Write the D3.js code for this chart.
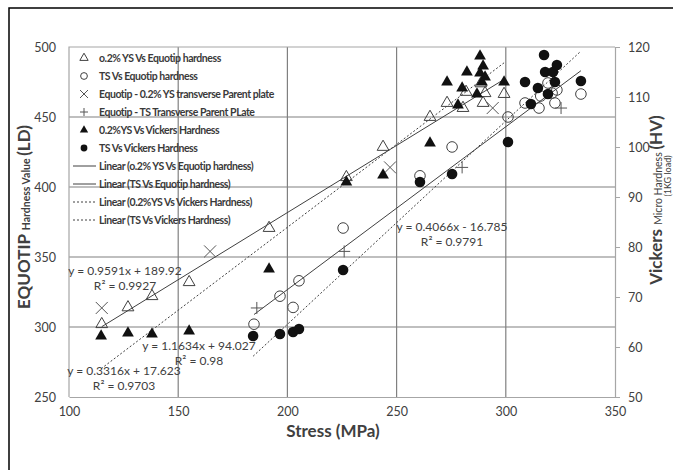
<!DOCTYPE html>
<html>
<head>
<meta charset="utf-8">
<script src="https://cdn.jsdelivr.net/npm/d3@7"></script>
<style>
  body { margin: 0; background: #fff; }
  text { font-family: Lato, "Open Sans", sans-serif; fill: #404040; }
  .legend text { font-family: Lato, sans-serif; font-weight: bold; font-size: 10.5px; letter-spacing: -0.45px; fill: #3a3a3a; }
</style>
</head>
<body>
<svg id="chart" width="673" height="470"></svg>
<script>
// [stress MPa, value]; Equotip series on left axis (LD), Vickers series on right axis (HV)
const ysEquotip = [[115,302],[127,314],[138,322],[155,332],[191.6,370.7],[227,407],[243.8,428.6],
  [265.3,450],[273.1,460],[280.4,456.4],[281.8,467.9],[288.6,474],[289.6,460],[290.5,467],[299.2,466.4]];
const tsEquotip = [[184.7,302],[196.6,322],[202.6,314],[205.3,333],[225.5,370.7],[260.7,408],[275.4,428.6],
  [301,450],[308.8,460],[315.2,456.4],[316,465],[319.3,474.3],[321.2,467.1],[322.5,460],[323.4,469.3],[334.4,466.4]];
const ysTransverse = [[115,313.6],[164.6,354],[247,414],[294,456.4]];
const tsTransverse = [[186,313.6],[226,354],[280,414],[325.3,456.4]];
const ysVickers = [[114.7,62.2],[127,62.8],[138,62.6],[155,63.2],[191.6,75.6],[227,93],[243.8,94.4],
  [265.3,100.8],[273.1,113],[278.1,108.4],[280,111.8],[282.2,115],[286.8,110.6],[288.2,118.2],
  [288.2,114.8],[289.1,113],[289.6,116.2],[290.5,114],[299.2,113]];
const tsVickers = [[184.3,62.2],[196.6,62.6],[202.6,63],[205.3,63.6],[225.5,75.4],[260.7,93],[275.4,94.6],
  [301,101],[308.8,113],[311.5,108.6],[314.7,111.8],[317.5,118.4],[318,115],[319.3,110.6],
  [321.6,115],[322.5,113],[323.4,116.4],[334.4,113.2]];

// trendline equations printed on the chart: [slope, intercept]
const fitYsEquotip = [0.9591, 189.92];
const fitTsEquotip = [1.1634, 94.027];
const fitYsVickers = [0.3316, 17.623];
const fitTsVickers = [0.4066, -16.785];

const xTicks = [100, 150, 200, 250, 300, 350];
const ldTicks = [250, 300, 350, 400, 450, 500];
const hvTicks = [50, 60, 70, 80, 90, 100, 110, 120];

const legendLabels = [
  "o.2% YS Vs Equotip hardness",
  "TS Vs Equotip hardness",
  "Equotip - 0.2% YS transverse Parent plate",
  "Equotip - TS Transverse Parent PLate",
  "0.2%YS Vs Vickers Hardness",
  "TS Vs Vickers Hardness",
  "Linear (o.2% YS Vs Equotip hardness)",
  "Linear (TS Vs Equotip hardness)",
  "Linear (0.2%YS Vs Vickers Hardness)",
  "Linear (TS Vs Vickers Hardness)"
];

const svg = d3.select("#chart");
const m = {left: 69, right: 615, top: 47, bottom: 397};

const x = d3.scaleLinear().domain([100, 350]).range([m.left, m.right]);
const yL = d3.scaleLinear().domain([250, 500]).range([m.bottom, m.top]);
const yR = d3.scaleLinear().domain([50, 120]).range([m.bottom, m.top]);

// outer frame
svg.append("rect")
  .attr("x", 9).attr("y", 8).attr("width", 680).attr("height", 480)
  .attr("fill", "none").attr("stroke", "#000").attr("stroke-width", 1.5);

// grid
const grid = svg.append("g").attr("stroke", "#808080").attr("stroke-width", 1.2);
grid.selectAll(".h").data(ldTicks.slice(1, -1)).enter().append("line")
  .attr("x1", m.left).attr("x2", m.right)
  .attr("y1", d => yL(d)).attr("y2", d => yL(d));
grid.selectAll(".v").data(xTicks.slice(1, -1)).enter().append("line")
  .attr("y1", m.top).attr("y2", m.bottom)
  .attr("x1", d => x(d)).attr("x2", d => x(d));

// plot border
svg.append("path")
  .attr("d", `M${m.left},${m.bottom}V${m.top}H${m.right}`)
  .attr("fill", "none").attr("stroke", "#a6a6a6").attr("stroke-width", 1.2);

// axes
const xAxis = svg.append("g").attr("transform", `translate(0,${m.bottom})`)
  .call(d3.axisBottom(x).tickValues(xTicks).tickSize(0).tickPadding(10));
const lAxis = svg.append("g").attr("transform", `translate(${m.left},0)`)
  .call(d3.axisLeft(yL).tickValues(ldTicks).tickSize(0).tickPadding(13));
lAxis.select(".domain").remove();
const rAxis = svg.append("g").attr("transform", `translate(${m.right},0)`)
  .call(d3.axisRight(yR).tickValues(hvTicks).tickSize(5).tickPadding(8));
[xAxis, rAxis].forEach(a => {
  a.select(".domain").attr("stroke", "#a6a6a6").attr("stroke-width", 1.2);
  a.selectAll(".tick line").attr("stroke", "#a6a6a6");
});
[xAxis, lAxis, rAxis].forEach(a => a.selectAll(".tick text")
  .attr("font-family", "Lato, sans-serif").attr("font-size", 12.5).attr("fill", "#404040"));

// axis titles
svg.append("text").attr("x", 333).attr("y", 437).attr("text-anchor", "middle")
  .attr("font-size", 17).attr("font-weight", "bold").attr("fill", "#333")
  .text("Stress (MPa)");

const lt = svg.append("text").attr("transform", "translate(30,217) rotate(-90)")
  .attr("text-anchor", "middle").attr("font-weight", "bold").attr("fill", "#333");
lt.append("tspan").attr("font-size", 17).text("EQUOTIP ");
lt.append("tspan").attr("font-size", 10.5).text("Hardness Value ");
lt.append("tspan").attr("font-size", 17).text("(LD)");

const rt = svg.append("text").attr("transform", "translate(662,200) rotate(-90)")
  .attr("text-anchor", "middle").attr("font-weight", "bold").attr("fill", "#333");
rt.append("tspan").attr("font-size", 17).text("Vickers ");
rt.append("tspan").attr("font-size", 10.5).attr("font-weight", "normal").text("Micro Hardness ");
rt.append("tspan").attr("font-size", 17).text("(HV)");
svg.append("text").attr("transform", "translate(671,176) rotate(-90)")
  .attr("text-anchor", "middle").attr("font-size", 9).attr("fill", "#333")
  .text("(1KG load)");

// trendlines across each series' stress range
function fitLine(data, fit, yScale, dashed) {
  const ext = d3.extent(data, d => d[0]);
  const pts = ext.map(s => [s, fit[0] * s + fit[1]]);
  svg.append("path")
    .attr("d", d3.line().x(d => x(d[0])).y(d => yScale(d[1]))(pts))
    .attr("fill", "none").attr("stroke", "#404040").attr("stroke-width", 1)
    .attr("stroke-dasharray", dashed ? "2,2" : null);
}
fitLine(ysEquotip, fitYsEquotip, yL, false);
fitLine(tsEquotip, fitTsEquotip, yL, false);
fitLine(ysVickers, fitYsVickers, yR, true);
fitLine(tsVickers, fitTsVickers, yR, true);

// markers
const symTri = d3.symbol().type(d3.symbolTriangle).size(60);
const symCircle = d3.symbol().type(d3.symbolCircle).size(88);

function drawMarker(g, kind, cx, cy) {
  const t = `translate(${cx},${cy})`;
  if (kind === "openTri") g.append("path").attr("d", symTri()).attr("transform", t)
    .attr("fill", "none").attr("stroke", "#404040").attr("stroke-width", 1);
  if (kind === "openCircle") g.append("path").attr("d", symCircle()).attr("transform", t)
    .attr("fill", "none").attr("stroke", "#404040").attr("stroke-width", 1);
  if (kind === "fillTri") g.append("path").attr("d", symTri()).attr("transform", t)
    .attr("fill", "#111");
  if (kind === "fillCircle") g.append("path").attr("d", symCircle()).attr("transform", t)
    .attr("fill", "#111");
  if (kind === "x" || kind === "plus") {
    const r = 6;
    const d = kind === "x" ? `M${-r},${-r}L${r},${r}M${-r},${r}L${r},${-r}`
                           : `M${-r},0H${r}M0,${-r}V${r}`;
    g.append("path").attr("d", d).attr("transform", t)
      .attr("stroke", "#555").attr("stroke-width", 1);
  }
}

const series = [
  {data: ysEquotip, kind: "openTri", y: yL},
  {data: tsEquotip, kind: "openCircle", y: yL},
  {data: ysTransverse, kind: "x", y: yL},
  {data: tsTransverse, kind: "plus", y: yL},
  {data: ysVickers, kind: "fillTri", y: yR},
  {data: tsVickers, kind: "fillCircle", y: yR}
];
const marks = svg.append("g");
series.forEach(s => s.data.forEach(d => drawMarker(marks, s.kind, x(d[0]), s.y(d[1]))));

// regression labels
const eqLabels = [
  {x: 125, y: 275, lines: ["y = 0.9591x + 189.92", "R\u00b2 = 0.9927"]},
  {x: 199, y: 350, lines: ["y = 1.1634x + 94.027", "R\u00b2 = 0.98"]},
  {x: 124, y: 375, lines: ["y = 0.3316x + 17.623", "R\u00b2 = 0.9703"]},
  {x: 452, y: 231, lines: ["y = 0.4066x - 16.785", "R\u00b2 = 0.9791"]}
];
eqLabels.forEach(l => {
  l.lines.forEach((t, i) => svg.append("text")
    .attr("x", l.x).attr("y", l.y + i * 15).attr("text-anchor", "middle")
    .attr("font-size", 12).attr("fill", "#404040").text(t));
});

// legend
const legend = svg.append("g").attr("class", "legend");
const kinds = ["openTri", "openCircle", "x", "plus", "fillTri", "fillCircle"];
legendLabels.forEach((label, i) => {
  const cy = 58 + i * 18;
  if (i < 6) {
    if (kinds[i] === "x" || kinds[i] === "plus") {
      const r = 4;
      const d = kinds[i] === "x" ? `M${84 - r},${cy - r}L${84 + r},${cy + r}M${84 - r},${cy + r}L${84 + r},${cy - r}`
                                 : `M${84 - r},${cy}H${84 + r}M84,${cy - r}V${cy + r}`;
      legend.append("path").attr("d", d).attr("stroke", "#555").attr("stroke-width", 1);
    } else {
      const small = d3.symbol().type(kinds[i].includes("Tri") ? d3.symbolTriangle : d3.symbolCircle)
        .size(kinds[i].includes("Tri") ? 30 : 36);
      legend.append("path").attr("d", small()).attr("transform", `translate(84,${cy})`)
        .attr("fill", kinds[i].startsWith("fill") ? "#111" : "none")
        .attr("stroke", kinds[i].startsWith("fill") ? null : "#404040");
    }
  } else {
    legend.append("line").attr("x1", 73).attr("x2", 96).attr("y1", cy).attr("y2", cy)
      .attr("stroke", "#404040").attr("stroke-width", 1)
      .attr("stroke-dasharray", i >= 8 ? "2,2" : null);
  }
  legend.append("text").attr("x", 99).attr("y", cy + 3.5).text(label);
});
</script>
</body>
</html>
